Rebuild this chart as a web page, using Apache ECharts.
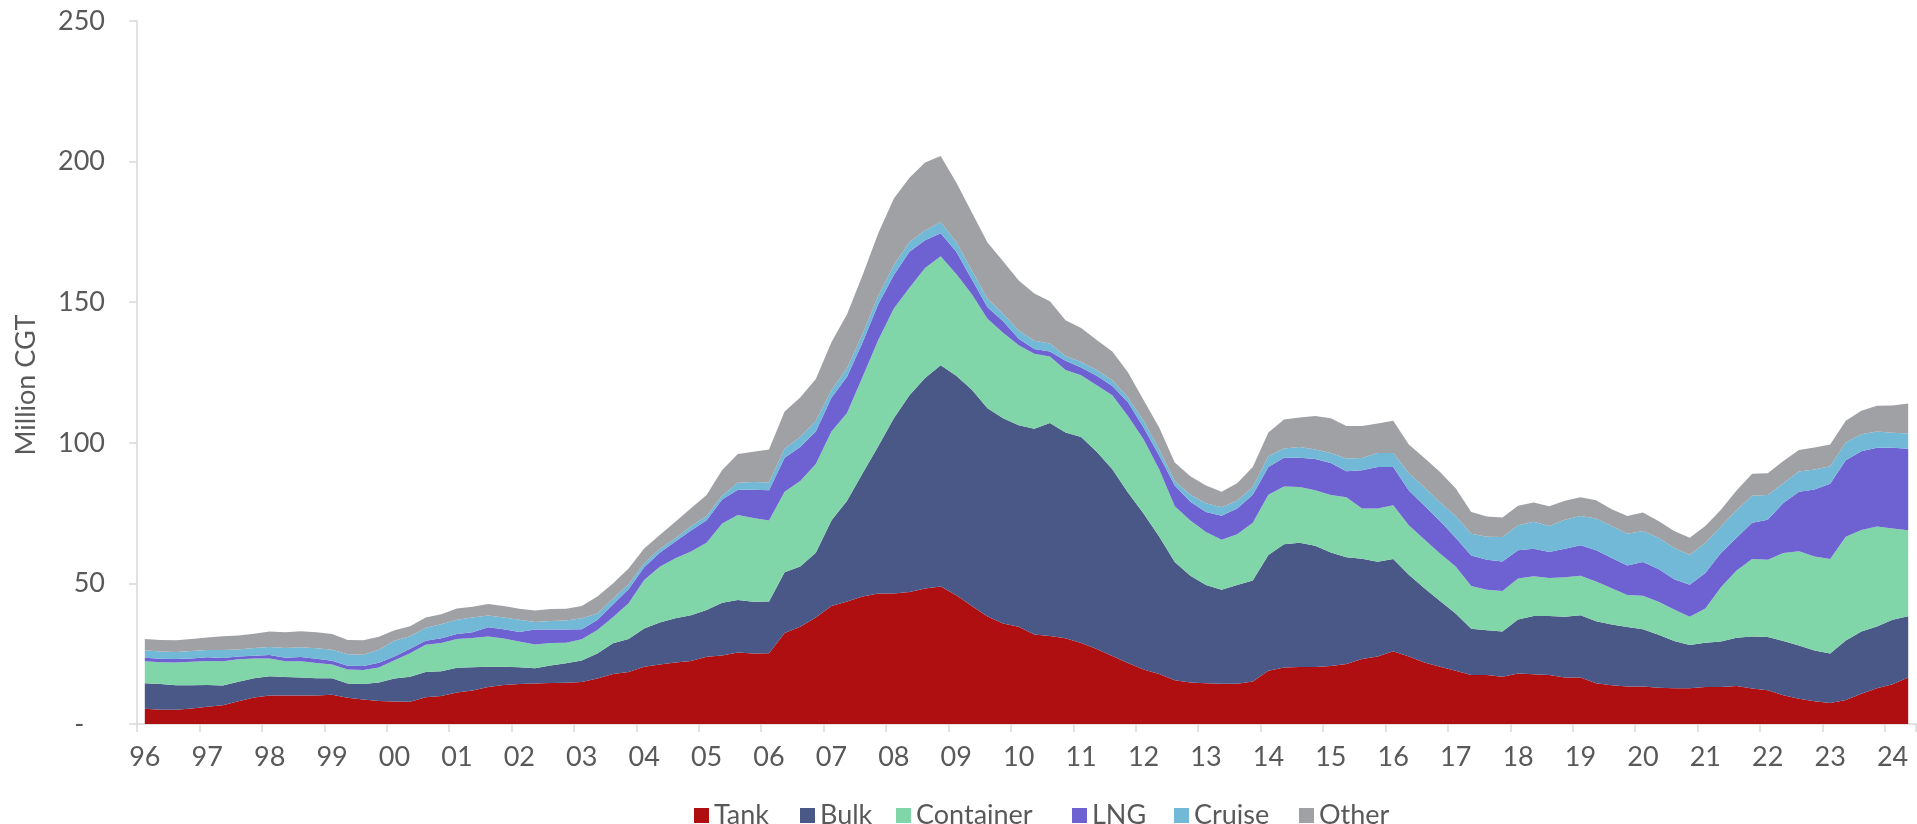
<!DOCTYPE html>
<html>
<head>
<meta charset="utf-8">
<title>Orderbook by ship type</title>
<script src="https://cdn.jsdelivr.net/npm/echarts@6/dist/echarts.min.js"></script>
<style>
  html, body { margin: 0; padding: 0; background: #fff; }
  #chart { width: 1917px; height: 824px; }
</style>
</head>
<body>
<div id="chart"></div>
<script>
// quarterly, 1996 Q1 .. 2024 Q2, million CGT
const yearLabels = ['96', '97', '98', '99', '00', '01', '02', '03', '04', '05', '06', '07', '08', '09',
  '10', '11', '12', '13', '14', '15', '16', '17', '18', '19', '20', '21', '22', '23', '24'];
const quartersInLastYear = 2;

const tank = [
  5.4, 5.1, 5.1, 5.5, 6.1, 6.7, 8.1, 9.4, 10.1, 10.1, 10.1, 10.1, 10.4, 9.3, 8.7, 8.2,
  8.0, 7.9, 9.5, 10.0, 11.2, 11.9, 13.2, 13.9, 14.2, 14.4, 14.6, 14.7, 14.9, 16.2, 17.8, 18.5,
  20.4, 21.2, 21.9, 22.4, 23.9, 24.4, 25.4, 25.1, 25.2, 32.4, 34.6, 37.9, 42.0, 43.6, 45.3, 46.4,
  46.4, 46.9, 48.2, 48.9, 45.8, 42.0, 38.2, 35.7, 34.6, 31.8, 31.3, 30.5, 28.8, 26.7, 24.2, 21.7,
  19.4, 17.8, 15.6, 14.8, 14.5, 14.3, 14.3, 15.1, 18.9, 20.1, 20.3, 20.3, 20.6, 21.3, 23.1, 24.0,
  25.9, 24.0, 21.9, 20.4, 18.9, 17.4, 17.4, 16.8, 18.0, 17.7, 17.4, 16.5, 16.5, 14.5, 13.8, 13.3,
  13.3, 12.9, 12.7, 12.7, 13.2, 13.2, 13.5, 12.6, 12.0, 10.2, 9.0, 8.1, 7.5, 8.5, 10.8, 12.7,
  14.1, 16.5
];
const bulk = [
  9.1, 9.1, 8.7, 8.3, 7.8, 7.0, 6.9, 6.9, 6.9, 6.6, 6.4, 6.2, 5.9, 5.1, 5.5, 6.6,
  8.2, 8.9, 9.0, 8.8, 8.8, 8.3, 7.2, 6.5, 6.0, 5.4, 6.2, 6.9, 7.7, 8.9, 10.9, 11.7,
  13.6, 14.9, 15.7, 16.3, 16.6, 18.7, 18.7, 18.4, 18.4, 21.6, 21.4, 23.0, 30.4, 35.8, 43.9, 52.4,
  62.3, 70.0, 74.8, 78.7, 78.0, 76.9, 74.1, 73.0, 71.6, 73.2, 75.7, 73.2, 73.3, 70.1, 66.4, 60.6,
  55.5, 48.9, 42.0, 37.9, 34.9, 33.4, 35.1, 35.9, 41.2, 43.8, 44.2, 43.1, 40.4, 38.0, 35.7, 33.7,
  32.8, 29.1, 26.4, 23.3, 20.4, 16.5, 15.9, 16.1, 19.2, 20.7, 21.0, 21.6, 22.2, 22.0, 21.6, 21.2,
  20.4, 18.8, 16.8, 15.4, 15.7, 16.1, 17.2, 18.5, 18.9, 19.3, 18.9, 18.0, 17.6, 21.2, 22.1, 22.0,
  23.0, 21.8
];
const container = [
  7.8, 7.8, 8.1, 8.3, 8.5, 8.6, 8.0, 7.0, 6.3, 5.6, 5.8, 5.4, 4.9, 5.0, 5.0, 5.3,
  6.5, 8.4, 9.7, 10.0, 10.2, 10.4, 10.7, 10.0, 9.1, 8.5, 8.0, 7.3, 7.5, 8.3, 9.3, 12.7,
  17.2, 19.8, 21.3, 22.6, 24.0, 28.2, 30.2, 29.8, 28.8, 28.6, 30.4, 31.6, 31.6, 31.2, 34.3, 37.8,
  39.1, 38.2, 39.2, 38.7, 36.2, 33.9, 31.8, 30.4, 28.5, 26.7, 23.7, 22.2, 21.9, 23.7, 26.3, 27.2,
  26.4, 23.9, 19.8, 19.7, 18.9, 17.8, 18.1, 20.6, 21.4, 20.6, 19.8, 19.7, 20.4, 21.3, 17.8, 18.9,
  19.1, 17.6, 17.3, 16.9, 16.7, 15.2, 14.4, 14.4, 14.5, 14.1, 13.5, 14.1, 14.0, 14.2, 12.9, 11.4,
  11.9, 11.8, 11.2, 10.0, 12.2, 19.3, 23.9, 27.6, 27.5, 31.3, 33.5, 33.5, 33.6, 36.9, 36.1, 35.5,
  32.4, 30.6
];
const lng = [
  1.3, 1.2, 1.2, 1.2, 1.3, 1.2, 1.0, 1.0, 1.2, 1.3, 1.5, 1.5, 1.3, 1.3, 1.4, 1.7,
  1.3, 1.6, 1.4, 1.7, 1.8, 2.0, 3.3, 3.3, 3.4, 5.3, 4.8, 4.7, 3.6, 3.6, 4.5, 5.0,
  4.5, 5.0, 6.0, 7.5, 8.0, 8.5, 9.0, 10.0, 10.7, 12.1, 12.1, 11.5, 12.0, 12.9, 12.3, 12.7,
  11.9, 12.8, 9.8, 8.2, 7.9, 5.3, 4.1, 4.1, 2.3, 1.7, 1.8, 3.3, 2.8, 3.3, 3.3, 4.9,
  4.1, 4.9, 7.4, 6.6, 7.1, 8.6, 9.1, 9.9, 9.9, 10.2, 10.4, 11.1, 11.4, 9.3, 13.6, 14.8,
  13.6, 12.3, 12.0, 11.6, 10.2, 10.8, 10.7, 10.5, 10.1, 9.8, 9.3, 10.1, 10.9, 11.1, 10.7, 10.5,
  12.0, 11.6, 10.8, 11.4, 12.6, 12.2, 11.6, 12.9, 14.2, 17.8, 21.2, 23.8, 26.7, 27.2, 28.0, 28.0,
  28.7, 29.0
];
const cruise = [
  2.6, 2.6, 2.5, 2.7, 2.6, 2.8, 2.5, 2.7, 2.9, 3.4, 3.5, 3.7, 3.9, 4.1, 4.0, 4.6,
  5.6, 4.4, 4.6, 5.0, 5.1, 5.3, 4.2, 4.2, 4.4, 2.7, 3.0, 3.2, 3.9, 2.3, 2.0, 1.8,
  1.5, 1.3, 1.2, 1.5, 1.5, 1.5, 2.5, 2.8, 2.8, 3.3, 3.6, 3.8, 2.8, 3.0, 3.0, 3.0,
  3.5, 3.5, 3.5, 4.0, 3.5, 3.2, 3.0, 2.7, 2.9, 2.9, 2.8, 1.7, 1.9, 2.1, 2.0, 1.7,
  2.4, 2.1, 1.6, 2.5, 3.1, 3.0, 2.8, 2.8, 3.8, 3.3, 3.8, 3.4, 3.6, 4.5, 4.4, 5.0,
  5.0, 6.2, 6.6, 6.6, 7.8, 7.8, 8.2, 8.7, 8.9, 9.6, 9.2, 10.3, 10.4, 11.3, 11.4, 11.3,
  11.0, 11.1, 11.1, 10.7, 10.7, 9.4, 9.8, 9.6, 8.8, 7.0, 7.2, 7.1, 6.3, 6.3, 6.0, 5.8,
  5.4, 5.4
];
const other = [
  4.0, 4.1, 4.2, 4.2, 4.5, 4.9, 5.0, 5.1, 5.5, 5.6, 5.7, 5.7, 5.6, 5.1, 5.2, 4.6,
  3.7, 3.6, 3.7, 3.5, 4.0, 3.8, 4.1, 4.1, 3.9, 4.1, 4.3, 4.2, 4.4, 6.0, 5.5, 5.6,
  5.2, 5.0, 5.8, 6.4, 7.4, 9.0, 10.2, 10.7, 11.7, 13.1, 14.0, 14.9, 17.0, 19.2, 20.9, 22.2,
  23.7, 22.9, 24.2, 23.5, 21.2, 20.6, 20.0, 18.7, 17.8, 16.8, 15.0, 12.7, 12.1, 10.7, 10.3, 9.0,
  7.4, 7.8, 6.6, 6.6, 6.3, 5.5, 6.2, 7.1, 8.5, 10.3, 10.5, 11.9, 12.3, 11.6, 11.4, 10.5,
  11.4, 10.2, 10.4, 10.8, 9.8, 7.7, 7.2, 6.9, 6.9, 6.9, 7.0, 6.8, 6.6, 6.5, 6.0, 6.3,
  6.6, 6.0, 6.0, 6.0, 6.0, 6.0, 7.0, 7.8, 7.8, 7.9, 7.6, 7.8, 7.7, 7.7, 8.4, 9.2,
  9.7, 10.7
];

const seriesNames = ['Tank', 'Bulk', 'Container', 'LNG', 'Cruise', 'Other'];
const seriesColors = ['#B00F12', '#4A5888', '#80D6A8', '#6E61D2', '#71B9D6', '#A0A1A5'];
const seriesData = [tank, bulk, container, lng, cruise, other];

// category per quarter, e.g. '96Q1'
const categories = [];
yearLabels.forEach((y, i) => {
  const n = i === yearLabels.length - 1 ? quartersInLastYear : 4;
  for (let q = 1; q <= n; q++) categories.push(y + 'Q' + q);
});

const axisGrey = '#d9d9d9';
const textGrey = '#595959';
const font = 'Lato';

// one legend per entry so each swatch sits where the original has it
const legendLefts = [689, 795, 891, 1067, 1169, 1294];
const legends = seriesNames.map((name, i) => ({
  left: legendLefts[i],
  top: 797,
  icon: 'rect',
  itemWidth: 15,
  itemHeight: 15,
  data: [name],
  textStyle: { color: textGrey, fontSize: 27, fontFamily: font }
}));

const chart = echarts.init(document.getElementById('chart'));

chart.setOption({
  animation: false,
  backgroundColor: '#fff',
  textStyle: { fontFamily: font },
  grid: { left: 137, right: 1, top: 21, bottom: 100 },
  legend: legends,
  graphic: [{
    type: 'text',
    x: 26,
    y: 385,
    rotation: Math.PI / 2,
    style: {
      text: 'Million CGT',
      fill: textGrey,
      font: '27px ' + font,
      textAlign: 'center',
      textVerticalAlign: 'middle'
    }
  }],
  xAxis: {
    type: 'category',
    data: categories,
    boundaryGap: true,
    axisLine: { show: true, lineStyle: { color: axisGrey, width: 1.5 } },
    axisTick: { show: true, interval: 3, length: 8, lineStyle: { color: axisGrey, width: 1.5 } },
    axisLabel: {
      interval: 3,
      margin: 20,
      color: textGrey,
      fontSize: 27,
      fontFamily: font,
      formatter: v => v.slice(0, 2)
    },
    splitLine: { show: false }
  },
  yAxis: {
    type: 'value',
    min: 0,
    max: 250,
    interval: 50,
    axisLine: { show: true, lineStyle: { color: axisGrey, width: 1.5 } },
    axisTick: { show: true, length: 8, lineStyle: { color: axisGrey, width: 1.5 } },
    axisLabel: {
      margin: 32,
      color: textGrey,
      fontSize: 27,
      fontFamily: font,
      formatter: v => (v === 0 ? '-   ' : String(v))
    },
    splitLine: { show: false }
  },
  series: seriesNames.map((name, i) => ({
    name: name,
    type: 'line',
    stack: 'total',
    data: seriesData[i],
    symbol: 'none',
    smooth: false,
    color: seriesColors[i],
    itemStyle: { color: seriesColors[i] },
    lineStyle: { width: 0 },
    areaStyle: { color: seriesColors[i], opacity: 1 },
    emphasis: { disabled: true }
  }))
});
</script>
</body>
</html>
